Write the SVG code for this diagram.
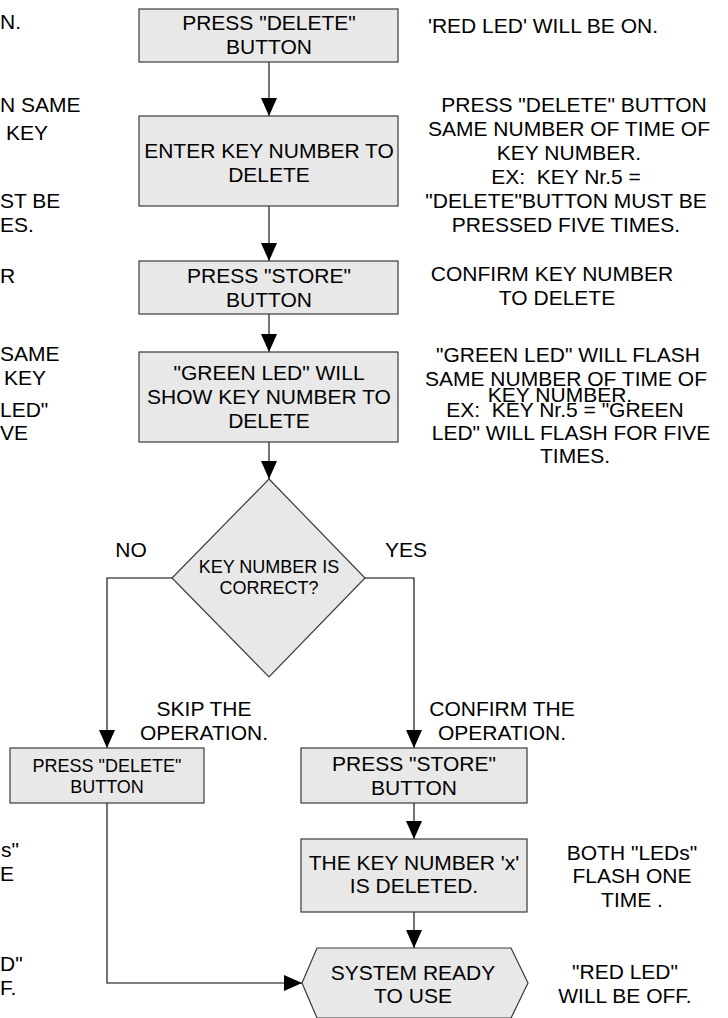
<svg xmlns="http://www.w3.org/2000/svg" width="728" height="1018" viewBox="0 0 728 1018">
<defs>
<style>
.box{fill:#e8e8e8;stroke:#3a3a3a;stroke-width:1.2}
.t{font-family:"Liberation Sans",Arial,sans-serif;font-size:21px;fill:#000;text-anchor:middle}
.s{font-size:18px}
.l{text-anchor:start}
.c{fill:none;stroke:#000;stroke-width:1.1}
</style>
<marker id="ah" markerUnits="userSpaceOnUse" markerWidth="18" markerHeight="16" refX="18" refY="8" orient="auto">
<path d="M0,0 L18,8 L0,16 z" fill="#000"/>
</marker>
</defs>
<rect width="728" height="1018" fill="#fff"/>

<g id="connectors">
<path class="c" d="M269,62 V116" marker-end="url(#ah)"/>
<path class="c" d="M269,206 V261" marker-end="url(#ah)"/>
<path class="c" d="M269,314 V352" marker-end="url(#ah)"/>
<path class="c" d="M269,442 V479" marker-end="url(#ah)"/>
<path class="c" d="M172,578 H107 V748" marker-end="url(#ah)"/>
<path class="c" d="M365,578 H414 V748" marker-end="url(#ah)"/>
<path class="c" d="M414,803 V839" marker-end="url(#ah)"/>
<path class="c" d="M414,912 V948" marker-end="url(#ah)"/>
<path class="c" d="M107,803 V983 H302" marker-end="url(#ah)"/>
</g>

<g id="node1">
<rect class="box" x="139" y="9" width="259" height="53"/>
<text class="t" x="269" y="30">PRESS "DELETE"</text>
<text class="t" x="269" y="54">BUTTON</text>
</g>
<g id="node2">
<rect class="box" x="139" y="116" width="259" height="90"/>
<text class="t" x="269" y="158">ENTER KEY NUMBER TO</text>
<text class="t" x="269" y="182">DELETE</text>
</g>
<g id="node3">
<rect class="box" x="139" y="261" width="259" height="53"/>
<text class="t" x="269" y="283">PRESS "STORE"</text>
<text class="t" x="269" y="307">BUTTON</text>
</g>
<g id="node4">
<rect class="box" x="139" y="352" width="259" height="90"/>
<text class="t" x="269" y="380">"GREEN LED" WILL</text>
<text class="t" x="269" y="404">SHOW KEY NUMBER TO</text>
<text class="t" x="269" y="428">DELETE</text>
</g>
<g id="decision">
<polygon class="box" points="269,479 365,578 269,677 172,578"/>
<text class="t s" x="269" y="573">KEY NUMBER IS</text>
<text class="t s" x="269" y="594">CORRECT?</text>
</g>
<g id="node5">
<rect class="box" x="10" y="748" width="194" height="55"/>
<text class="t s" x="107" y="772">PRESS "DELETE"</text>
<text class="t s" x="107" y="793">BUTTON</text>
</g>
<g id="node6">
<rect class="box" x="301" y="748" width="226" height="55"/>
<text class="t" x="414" y="771">PRESS "STORE"</text>
<text class="t" x="414" y="795">BUTTON</text>
</g>
<g id="node7">
<rect class="box" x="301" y="839" width="226" height="73"/>
<text class="t" x="414" y="870">THE KEY NUMBER 'x'</text>
<text class="t" x="414" y="893">IS DELETED.</text>
</g>
<g id="terminal">
<polygon class="box" points="302,983 317,948 511,948 528,983 511,1018 317,1018"/>
<text class="t" x="413" y="980">SYSTEM READY</text>
<text class="t" x="413" y="1003">TO USE</text>
</g>

<g id="labels">
<text class="t" x="131" y="557">NO</text>
<text class="t" x="406" y="557">YES</text>
<text class="t" x="204" y="716">SKIP THE</text>
<text class="t" x="204" y="740">OPERATION.</text>
<text class="t" x="502" y="716">CONFIRM THE</text>
<text class="t" x="502" y="740">OPERATION.</text>
</g>

<g id="notes-right">
<text class="t" x="543" y="33">'RED LED' WILL BE ON.</text>
<text class="t" x="574" y="112">PRESS "DELETE" BUTTON</text>
<text class="t" x="569" y="136">SAME NUMBER OF TIME OF</text>
<text class="t" x="569" y="160">KEY NUMBER.</text>
<text class="t" x="566" y="184" xml:space="preserve">EX:  KEY Nr.5 =</text>
<text class="t" x="566" y="208">"DELETE"BUTTON MUST BE</text>
<text class="t" x="566" y="232">PRESSED FIVE TIMES.</text>
<text class="t" x="552" y="281">CONFIRM KEY NUMBER</text>
<text class="t" x="557" y="305">TO DELETE</text>
<text class="t" x="568" y="362">"GREEN LED" WILL FLASH</text>
<text class="t" x="566" y="386">SAME NUMBER OF TIME OF</text>
<text class="t" x="560" y="402">KEY NUMBER.</text>
<text class="t" x="565" y="417" xml:space="preserve">EX:  KEY Nr.5 = "GREEN</text>
<text class="t" x="571" y="440">LED" WILL FLASH FOR FIVE</text>
<text class="t" x="575" y="463">TIMES.</text>
<text class="t" x="632" y="860">BOTH "LEDs"</text>
<text class="t" x="632" y="883">FLASH ONE</text>
<text class="t" x="632" y="907">TIME .</text>
<text class="t" x="625" y="979">"RED LED"</text>
<text class="t" x="625" y="1003">WILL BE OFF.</text>
</g>

<g id="notes-left">
<text class="t l" x="0" y="29">N.</text>
<text class="t l" x="0" y="112">N SAME</text>
<text class="t l" x="6" y="140">KEY</text>
<text class="t l" x="0" y="208">ST BE</text>
<text class="t l" x="0" y="232">ES.</text>
<text class="t l" x="0" y="283">R</text>
<text class="t l" x="0" y="361">SAME</text>
<text class="t l" x="4" y="385">KEY</text>
<text class="t l" x="0" y="417">LED"</text>
<text class="t l" x="0" y="440">VE</text>
<text class="t l" x="1" y="857">s"</text>
<text class="t l" x="0" y="881">E</text>
<text class="t l" x="0" y="971">D"</text>
<text class="t l" x="0" y="995">F.</text>
</g>
</svg>
